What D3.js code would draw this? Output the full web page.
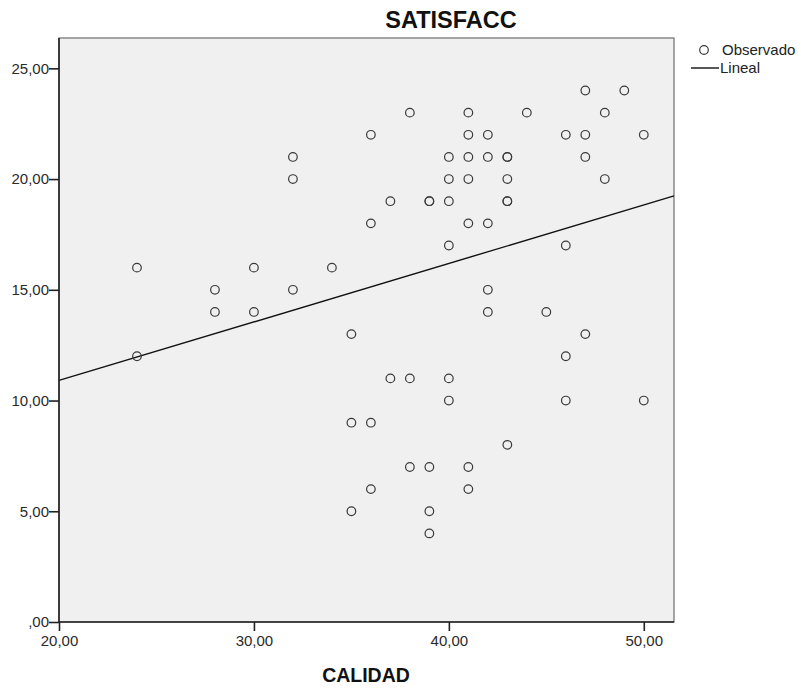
<!DOCTYPE html>
<html lang="es">
<head>
    <meta charset="UTF-8">
    <title>SATISFACC</title>
    <script src="https://d3js.org/d3.v7.min.js"></script>
    <style>
        body { margin: 0; background: #fff; }
        text { font-family: "Liberation Sans", Arial, sans-serif; }
    </style>
</head>
<body>
    <script>
        // observed points (CALIDAD, SATISFACC); repeated pairs appear as darker circles
        var calidad = [24, 24, 28, 28, 30, 30, 32, 32, 32, 34,
                       35, 35, 35, 36, 36, 36, 36, 37, 37, 38,
                       38, 38, 39, 39, 39, 39, 39, 40, 40, 40,
                       40, 40, 40, 41, 41, 41, 41, 41, 41, 41,
                       42, 42, 42, 42, 42, 43, 43, 43, 43, 43,
                       43, 44, 45, 46, 46, 46, 46, 47, 47, 47,
                       47, 48, 48, 49, 50, 50];
        var satisfacc = [16, 12, 15, 14, 16, 14, 21, 20, 15, 16,
                         13, 9, 5, 22, 18, 9, 6, 19, 11, 23,
                         11, 7, 19, 19, 7, 5, 4, 21, 20, 19,
                         17, 11, 10, 23, 22, 21, 20, 18, 7, 6,
                         22, 21, 18, 15, 14, 21, 21, 20, 19, 19,
                         8, 23, 14, 22, 17, 12, 10, 24, 22, 21,
                         13, 23, 20, 24, 22, 10];

        // linear fit as shown in the chart: [intercept, slope]
        var fitCoef = [5.63, 0.264];

        var xTicks = [20, 30, 40, 50];
        var yTicks = [0, 5, 10, 15, 20, 25];
        var xDomain = [20, 51.55];
        var yDomain = [0, 26.37];

        var svgWidth = 803, svgHeight = 690;
        var plotLeft = 59, plotRight = 674, plotTop = 38, plotBottom = 622;

        var fmt = function(v) {
            var s = d3.format('.2f')(v).replace('.', ',');
            return v === 0 ? s.replace(/^0/, '') : s;
        };

        var xScale = d3.scaleLinear().domain(xDomain).range([plotLeft, plotRight]);
        var yScale = d3.scaleLinear().domain(yDomain).range([plotBottom, plotTop]);

        var svg = d3.select('body')
            .append('svg')
            .attr('width', svgWidth)
            .attr('height', svgHeight);

        // plot background
        svg.append('rect')
            .attr('x', plotLeft)
            .attr('y', plotTop)
            .attr('width', plotRight - plotLeft)
            .attr('height', plotBottom - plotTop)
            .attr('fill', '#f0f0f0')
            .attr('stroke', '#6e6e6e')
            .attr('stroke-width', 1.2);

        var points = calidad.map(function(c, i) { return {x: c, y: satisfacc[i]}; });
        var fit = function(x) { return fitCoef[0] + fitCoef[1] * x; };

        svg.append('line')
            .attr('x1', xScale(xDomain[0]))
            .attr('y1', yScale(fit(xDomain[0])))
            .attr('x2', xScale(xDomain[1]))
            .attr('y2', yScale(fit(xDomain[1])))
            .attr('stroke', '#111')
            .attr('stroke-width', 1.4);

        svg.selectAll('circle.obs')
            .data(points)
            .enter()
            .append('circle')
            .attr('class', 'obs')
            .attr('cx', function(d) { return xScale(d.x); })
            .attr('cy', function(d) { return yScale(d.y); })
            .attr('r', 4.3)
            .attr('fill', 'none')
            .attr('stroke', '#3a3a3a')
            .attr('stroke-width', 1.2);

        // axes
        var xAxis = svg.append('g')
            .attr('transform', 'translate(0,' + plotBottom + ')')
            .call(d3.axisBottom(xScale).tickValues(xTicks).tickFormat(fmt).tickSize(9).tickSizeOuter(0));
        var yAxis = svg.append('g')
            .attr('transform', 'translate(' + plotLeft + ',0)')
            .call(d3.axisLeft(yScale).tickValues(yTicks).tickFormat(fmt).tickSize(10).tickSizeOuter(0));

        [xAxis, yAxis].forEach(function(ax) {
            ax.select('.domain').remove();
            ax.selectAll('line').attr('stroke', '#222').attr('stroke-width', 1.6);
            ax.selectAll('text')
                .attr('font-size', '15px')
                .attr('fill', '#2a2a2a')
                .attr('font-family', '"Liberation Sans", Arial, sans-serif');
        });
        yAxis.selectAll('text').attr('x', -10);
        xAxis.selectAll('text').attr('y', 13);

        svg.append('line')
            .attr('x1', plotLeft).attr('x2', plotRight)
            .attr('y1', plotBottom).attr('y2', plotBottom)
            .attr('stroke', '#222').attr('stroke-width', 1.6);
        svg.append('line')
            .attr('x1', plotLeft).attr('x2', plotLeft)
            .attr('y1', plotTop).attr('y2', plotBottom)
            .attr('stroke', '#222').attr('stroke-width', 1.6);

        // titles
        svg.append('text')
            .attr('x', 451)
            .attr('y', 28)
            .attr('text-anchor', 'middle')
            .attr('font-size', '23.5px')
            .attr('font-weight', 'bold')
            .attr('fill', '#111')
            .text('SATISFACC');

        svg.append('text')
            .attr('x', 366)
            .attr('y', 682)
            .attr('text-anchor', 'middle')
            .attr('font-size', '19.5px')
            .attr('font-weight', 'bold')
            .attr('fill', '#111')
            .text('CALIDAD');

        // legend
        var legend = svg.append('g');
        legend.append('circle')
            .attr('cx', 704).attr('cy', 50).attr('r', 4.3)
            .attr('fill', 'none').attr('stroke', '#3a3a3a').attr('stroke-width', 1.2);
        legend.append('text')
            .attr('x', 722).attr('y', 55)
            .attr('font-size', '15px').attr('fill', '#222')
            .text('Observado');
        legend.append('line')
            .attr('x1', 691).attr('x2', 719)
            .attr('y1', 68).attr('y2', 68)
            .attr('stroke', '#111').attr('stroke-width', 1.4);
        legend.append('text')
            .attr('x', 720).attr('y', 73)
            .attr('font-size', '15px').attr('fill', '#222')
            .text('Lineal');
    </script>
</body>
</html>
